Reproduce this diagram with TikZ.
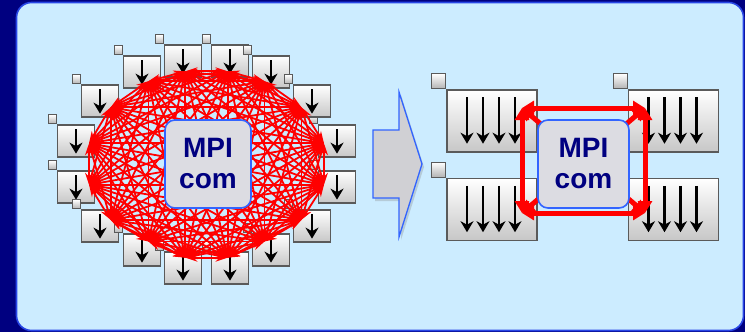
\documentclass[tikz,border=0pt]{standalone}
\usepackage{fontspec}
\setmainfont{Liberation Sans}
\usetikzlibrary{arrows.meta,shadows,calc}
\definecolor{navy}{RGB}{0,0,128}
\definecolor{panel}{RGB}{204,236,255}
\definecolor{panelborder}{RGB}{40,70,230}
\definecolor{boxedge}{RGB}{90,90,90}
\definecolor{mpifill}{RGB}{220,220,226}
\definecolor{mpiedge}{RGB}{50,100,255}
\definecolor{mpitext}{RGB}{0,0,128}
\definecolor{arrowfill}{RGB}{208,208,212}
\definecolor{meshred}{RGB}{255,0,0}
\tikzset{
  pbox/.style={draw=boxedge, line width=1.3pt, top color=white, bottom color=black!22,
    minimum width=37pt, minimum height=32pt, inner sep=0pt},
  psq/.style={draw=boxedge, line width=1.1pt, top color=white, bottom color=black!30,
    minimum width=8pt, minimum height=9pt, inner sep=0pt, anchor=south east},
  bbox/.style={draw=boxedge, line width=1.4pt, top color=white, bottom color=black!22,
    minimum width=90pt, minimum height=62pt, inner sep=0pt},
  bsq/.style={draw=boxedge, line width=1.2pt, top color=white, bottom color=black!30,
    minimum width=14pt, minimum height=15pt, inner sep=0pt, anchor=south east},
  darr/.style={black, line width=2.8pt, -{Stealth[length=11pt,width=13pt,inset=3.5pt]}},
  mesh/.style={meshred, line width=1.8pt, {Stealth[length=12pt,width=8pt]}-{Stealth[length=12pt,width=8pt]}},
  thick red link/.style={meshred, line width=5pt, {Triangle[length=12pt,width=14pt]}-{Triangle[length=12pt,width=14pt]}},
  mpi/.style={draw=mpiedge, line width=1.6pt, fill=mpifill, rounded corners=10pt,
    minimum width=86pt, minimum height=88pt, inner sep=0pt, align=center,
    text=mpitext, font=\bfseries\fontsize{28}{31}\selectfont},
}
\begin{document}
\begin{tikzpicture}[x=1pt,y=-1pt]
\fill[navy] (0,0) rectangle (745,332);
\useasboundingbox (0,0) rectangle (745,332);
\draw[panelborder, fill=panel, line width=1.6pt, rounded corners=15pt] (16.5,2.5) rectangle (743.5,330.5);

% ---------- left ring of processes ----------
\coordinate (c) at (206.5,164.5);
\foreach \n/\x/\y in {16/142/72, 15/100/101, 14/76/141, 13/76/187, 12/100/226, 11/142/250,
    10/183/268, 9/230/268, 8/271/250, 7/312/226, 6/337/187, 5/337/141,
    1/183/61, 2/230/61, 3/271/72, 4/312/101}{
  \node[pbox] (b\n) at (\x,\y) {};
  \node[psq] (s\n) at (b\n.north west) {};
  \coordinate (ta\n) at ($(b\n.north)+(0,5)$);
  \coordinate (tb\n) at ($(b\n.south)+(0,-4)$);
  \draw[darr] (ta\n) -- (tb\n);
}
\foreach \n in {1,...,16}{
  \coordinate (e\n) at ($(c)!0.9!(b\n.center)$);
}
\foreach \i in {1,...,15}{
  \pgfmathtruncatemacro\nxt{\i+1}
  \foreach \j in {\nxt,...,16}{
    \draw[mesh] (e\i) -- (e\j);
  }
}
\node[mpi] (m1) at (208,164) {MPI\\com};

% ---------- block arrow ----------
\draw[mpiedge, line width=1.3pt, fill=arrowfill, drop shadow={shadow xshift=2pt, shadow yshift=-3pt, opacity=0.3}]
  (373,130) -- (399,130) -- (399,92) -- (422,164) -- (399,237) -- (399,198) -- (373,198) -- cycle;

% ---------- right: four big processes ----------
\foreach \n/\x/\y in {1/492/121, 2/673.5/121, 3/492/209.5, 4/673.5/209.5}{
  \node[bbox] (r\n) at (\x,\y) {};
  \node[bsq] (q\n) at (r\n.north west) {};
  \foreach \k in {-25,-9,7,23}{
    \coordinate (ra\n\k) at ($(r\n.north)+(\k,8)$);
    \coordinate (rb\n\k) at ($(r\n.south)+(\k,-9)$);
    \draw[darr] (ra\n\k) -- (rb\n\k);
  }
}
\coordinate (k1) at (522,108);
\coordinate (k2) at (645,108);
\coordinate (k3) at (522,213);
\coordinate (k4) at (645,213);
\draw[thick red link] (k1) -- (k4);
\draw[thick red link] (k2) -- (k3);
\draw[thick red link] (k1) -- (k2);
\draw[thick red link] (k3) -- (k4);
\draw[thick red link] (k1) -- (k3);
\draw[thick red link] (k2) -- (k4);
\node[mpi, minimum width=91pt] (m2) at (583.5,164) {MPI\\com};
\end{tikzpicture}
\end{document}
